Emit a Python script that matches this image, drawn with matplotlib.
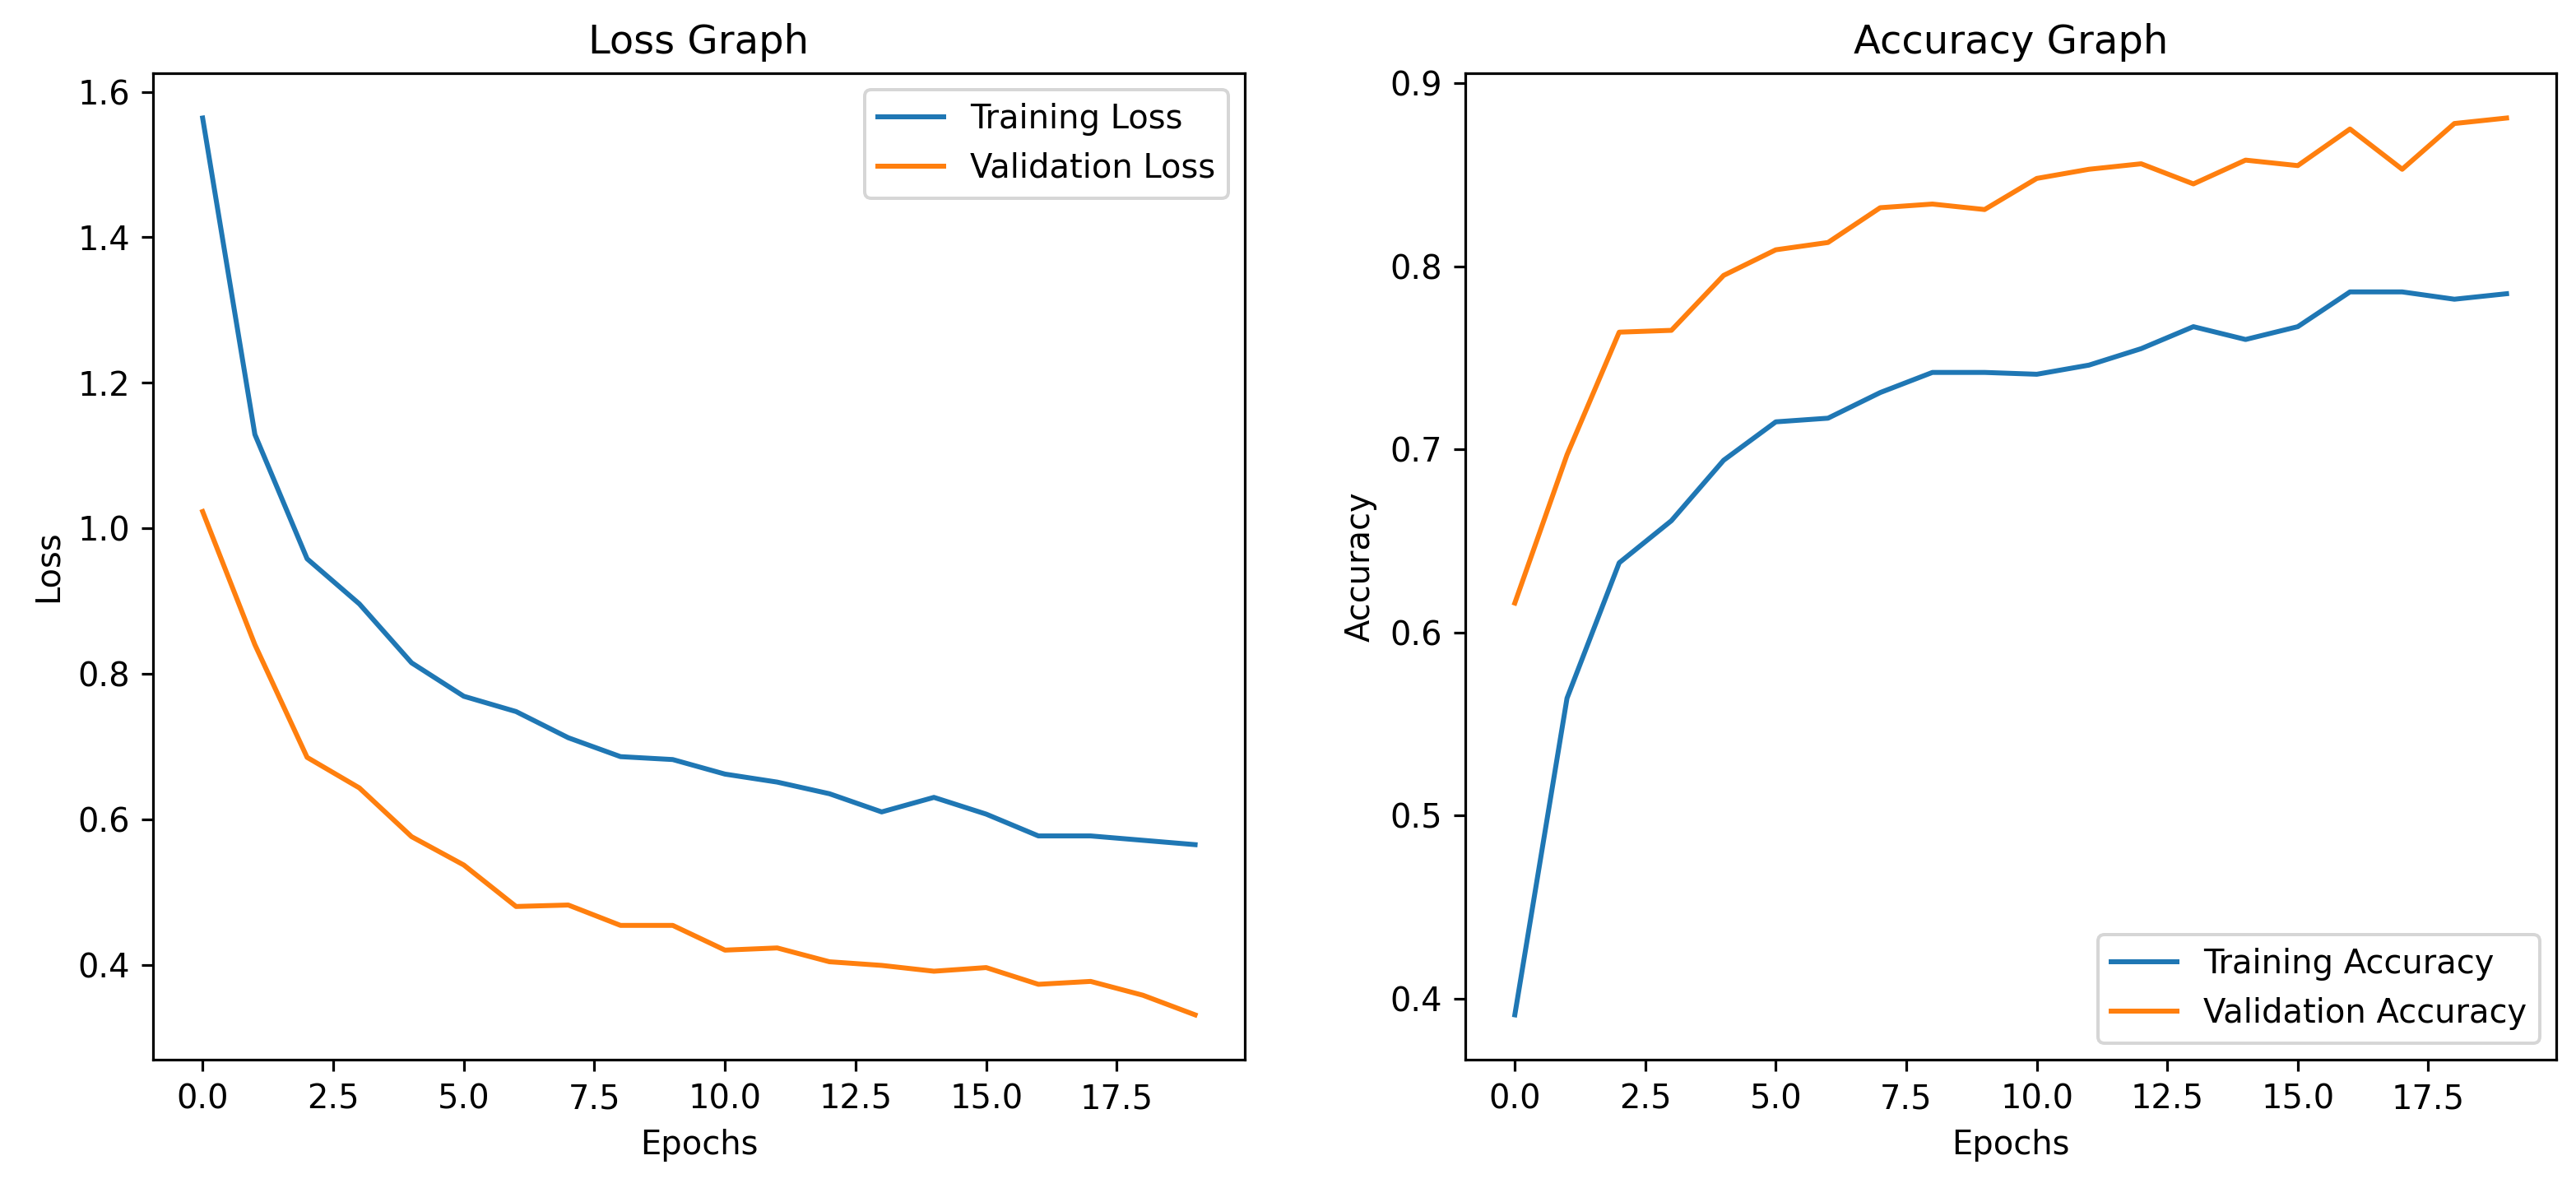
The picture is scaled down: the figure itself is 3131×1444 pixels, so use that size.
import numpy as np
import matplotlib
matplotlib.use("Agg")
import matplotlib.pyplot as plt

# --- valores ---
epocas = np.arange(20)

loss_treino = [1.564, 1.129, 0.958, 0.896, 0.815, 0.769, 0.748, 0.712, 0.686, 0.682,
               0.662, 0.651, 0.635, 0.610, 0.630, 0.607, 0.577, 0.577, 0.571, 0.565]
loss_validacao = [1.023, 0.840, 0.685, 0.643, 0.576, 0.537, 0.480, 0.482, 0.454, 0.454,
                  0.420, 0.423, 0.404, 0.399, 0.391, 0.396, 0.373, 0.377, 0.358, 0.331]

acc_treino = [0.391, 0.564, 0.638, 0.661, 0.694, 0.715, 0.717, 0.731, 0.742, 0.742,
              0.741, 0.746, 0.755, 0.767, 0.760, 0.767, 0.786, 0.786, 0.782, 0.785]
acc_validacao = [0.616, 0.697, 0.764, 0.765, 0.795, 0.809, 0.813, 0.832, 0.834, 0.831,
                 0.848, 0.853, 0.856, 0.845, 0.858, 0.855, 0.875, 0.853, 0.878, 0.881]

DPI = 288
fig = plt.figure(figsize=(3131 / DPI, 1444 / DPI), dpi=DPI)

# posições dos eixos (frações da figura)
ax1 = fig.add_axes([0.0594, 0.1080, 0.4238, 0.8304])
ax2 = fig.add_axes([0.5688, 0.1080, 0.4235, 0.8304])

ax1.plot(epocas, loss_treino, label='Training Loss')
ax1.plot(epocas, loss_validacao, label='Validation Loss')
ax1.set_title('Loss Graph')
ax1.set_xlabel('Epochs')
ax1.set_ylabel('Loss')
ax1.legend(loc='upper right')

ax2.plot(epocas, acc_treino, label='Training Accuracy')
ax2.plot(epocas, acc_validacao, label='Validation Accuracy')
ax2.set_title('Accuracy Graph')
ax2.set_xlabel('Epochs')
ax2.set_ylabel('Accuracy')
ax2.legend(loc='lower right')

fig.savefig('out.png', dpi=DPI)
